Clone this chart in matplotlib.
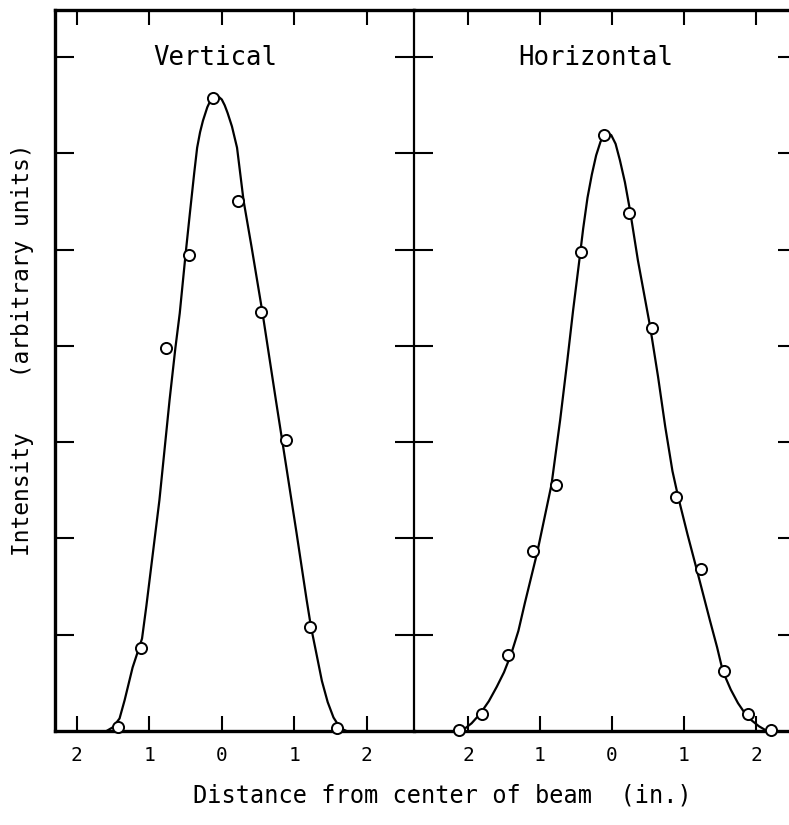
import numpy as np
import matplotlib
matplotlib.use('Agg')
import matplotlib.pyplot as plt

# Measured points (distance in inches, intensity in arbitrary units)
vert_x = [-1.43, -1.12, -0.77, -0.45, -0.12, 0.22, 0.54, 0.88, 1.22, 1.59]
vert_y = [0.04, 0.86, 3.98, 4.95, 6.58, 5.51, 4.35, 3.02, 1.08, 0.03]

horiz_x = [-2.12, -1.80, -1.45, -1.10, -0.78, -0.43, -0.11, 0.24, 0.56, 0.89,
           1.23, 1.55, 1.89, 2.21]
horiz_y = [0.01, 0.18, 0.79, 1.87, 2.56, 4.98, 6.19, 5.38, 4.19, 2.43,
           1.68, 0.62, 0.18, 0.01]

# Hand-drawn fit curves
vcurve_x = [-1.59, -1.50, -1.41, -1.34, -1.23, -1.16, -1.10, -1.04, -0.86,
            -0.72, -0.64, -0.58, -0.50, -0.44, -0.38, -0.34, -0.30, -0.26,
            -0.20, -0.15, -0.11, -0.06, 0.00, 0.04, 0.08, 0.14, 0.21, 0.30,
            0.41, 0.56, 0.745, 0.89, 1.03, 1.17, 1.23, 1.30, 1.38, 1.46,
            1.54, 1.60, 1.66, 1.72]
vcurve_y = [0.00, 0.04, 0.13, 0.32, 0.66, 0.82, 0.96, 1.30, 2.40,
            3.44, 3.98, 4.34, 4.95, 5.38, 5.80, 6.06, 6.22, 6.34,
            6.48, 6.56, 6.60, 6.60, 6.56, 6.50, 6.42, 6.28, 6.06, 5.51,
            5.03, 4.35, 3.44, 2.74, 2.06, 1.36, 1.08, 0.82, 0.52, 0.30,
            0.14, 0.07, 0.02, 0.00]

hcurve_x = [-2.07, -1.95, -1.83, -1.71, -1.60, -1.50, -1.40, -1.30, -1.21,
            -1.04, -0.84, -0.72, -0.62, -0.54, -0.46, -0.40, -0.34, -0.28,
            -0.22, -0.16, -0.11, -0.06, -0.01, 0.05, 0.11, 0.18, 0.25, 0.36,
            0.53, 0.64, 0.74, 0.84, 0.92, 1.05, 1.18, 1.36, 1.46, 1.54,
            1.65, 1.75, 1.85, 1.94, 2.04, 2.13]
hcurve_y = [0.01, 0.08, 0.18, 0.31, 0.46, 0.61, 0.80, 1.04, 1.33,
            1.85, 2.56, 3.23, 3.85, 4.37, 4.85, 5.22, 5.54, 5.78,
            5.98, 6.12, 6.19, 6.21, 6.19, 6.10, 5.93, 5.70, 5.41, 4.89,
            4.20, 3.68, 3.16, 2.70, 2.43, 2.04, 1.67, 1.15, 0.87, 0.62,
            0.43, 0.29, 0.18, 0.11, 0.05, 0.01]

xticks = [-2, -1, 0, 1, 2]
xtick_labels = ['2', '1', '0', '1', '2']
yticks = [1, 2, 3, 4, 5, 6, 7]

FONT = 'DejaVu Sans Mono'

fig = plt.figure(figsize=(7.89, 8.25), dpi=100)
W, H = 789.0, 825.0
ax1 = fig.add_axes([55 / W, (H - 731) / H, (414 - 55) / W, 721 / H])
ax2 = fig.add_axes([414 / W, (H - 731) / H, (797 - 414) / W, 721 / H])
ax2.patch.set_visible(False)

panels = [
    (ax1, vcurve_x, vcurve_y, vert_x, vert_y, 'Vertical', -0.09, (-2.30, 2.65)),
    (ax2, hcurve_x, hcurve_y, horiz_x, horiz_y, 'Horizontal', -0.22, (-2.75, 2.57)),
]
for ax, cx, cy, px, py, title, tx, xl in panels:
    ax.plot(cx, cy, color='black', lw=1.6, solid_joinstyle='round')
    ax.plot(px, py, 'o', ms=8, mfc='white', mec='black', mew=1.4,
            clip_on=False, zorder=5)
    ax.set_xlim(*xl)
    ax.set_ylim(0, 7.49)
    ax.set_xticks(xticks)
    ax.set_xticklabels(xtick_labels, fontsize=14, family=FONT)
    ax.set_yticks(yticks)
    ax.set_yticklabels([])
    ax.tick_params(axis='x', direction='in', length=11, width=1.5,
                   top=True, bottom=True, pad=11)
    ax.tick_params(axis='y', direction='in', length=14, width=1.5,
                   left=True, right=True)
    ax.text(tx, 6.99, title, ha='center', va='center', fontsize=18.5,
            family=FONT)

for side in ['left', 'top', 'bottom']:
    ax1.spines[side].set_linewidth(2.4)
ax1.spines['right'].set_linewidth(1.6)
ax2.spines['left'].set_visible(False)
ax2.spines['right'].set_visible(False)
ax2.spines['top'].set_linewidth(2.4)
ax2.spines['bottom'].set_linewidth(2.4)

fig.text(442 / W, 1 - 795 / H, 'Distance from center of beam  (in.)',
         ha='center', va='center', fontsize=17, family=FONT)
fig.text(23 / W, 1 - 350 / H, 'Intensity    (arbitrary units)',
         ha='center', va='center', rotation=90, fontsize=16.5, family=FONT)

fig.savefig('out.png', dpi=100)
